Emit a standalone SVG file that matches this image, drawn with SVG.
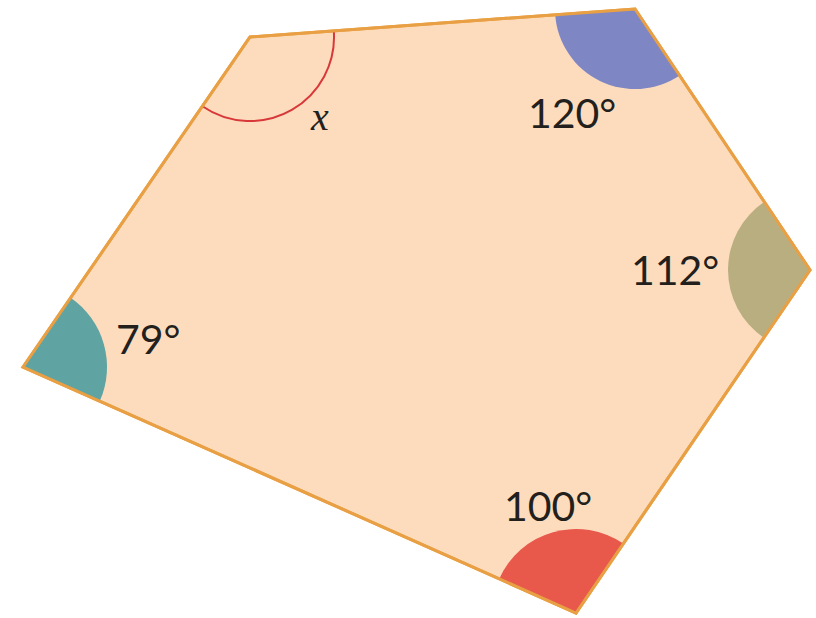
<svg xmlns="http://www.w3.org/2000/svg" width="816" height="618" viewBox="0 0 816 618">
<style>
.lbl{font-family:Lato,"Open Sans","Liberation Sans",sans-serif;font-size:41px;fill:#231f1c}
.var{font-family:"Liberation Serif",serif;font-style:italic;font-size:40px;fill:#231f1c}
</style>
<rect width="816" height="618" fill="#ffffff"/>
<g id="pentagon">
<polygon points="250,37 635,9 810,270 576,613 23,367" fill="#fddcbd" stroke="#e9a044" stroke-width="3" stroke-linejoin="miter"/>
</g>
<g id="angles">
<path id="angle-B" d="M635,9 L679.6,75.5 A80,80 0 0 1 555.2,14.8 Z" fill="#7f86c4"/>
<path id="angle-C" d="M810,270 L763.8,337.7 A82,82 0 0 1 764.3,201.9 Z" fill="#b9ae80"/>
<path id="angle-D" d="M576,613 L499.2,578.9 A84,84 0 0 1 623.3,543.6 Z" fill="#e8584b"/>
<path id="angle-E" d="M23,367 L70.6,297.8 A84,84 0 0 1 99.8,401.1 Z" fill="#5fa3a2"/>
<path id="angle-A" d="M333.8,30.9 A84,84 0 0 1 202.4,106.2" fill="none" stroke="#d9383a" stroke-width="2"/>
</g>
<g id="edges">
<polygon points="250,37 635,9 810,270 576,613 23,367" fill="none" stroke="#e9a044" stroke-width="3"/>
</g>
<g id="labels">
<text class="var" x="311" y="130">x</text>
<text class="lbl" x="528" y="128">120°</text>
<text class="lbl" x="631" y="285">112°</text>
<text class="lbl" x="116" y="354">79°</text>
<text class="lbl" x="504" y="521">100°</text>
</g>
</svg>
